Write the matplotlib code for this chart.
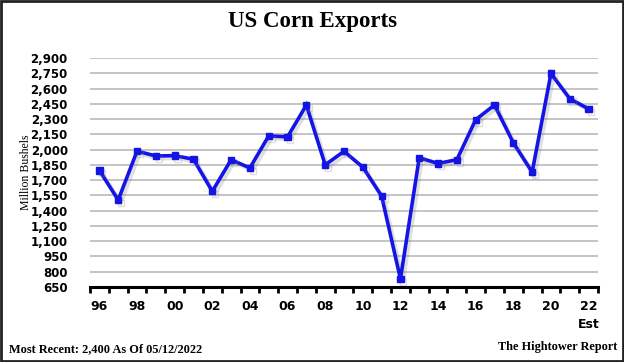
import numpy as np
import matplotlib
matplotlib.use("Agg")
import matplotlib.pyplot as plt
import matplotlib.patheffects as pe
from matplotlib.patches import Rectangle

# marketing years 1996 .. 2022 (22 = estimate)
years = np.arange(1996, 2023)
exports = [1795, 1505, 1985, 1937, 1941, 1905, 1590, 1900, 1820, 2135,
           2125, 2437, 1850, 1983, 1828, 1543, 730, 1920, 1864, 1901,
           2294, 2438, 2066, 1778, 2747, 2500, 2400]
yticks = list(range(650, 3000, 150))
xlabels = ["96", "98", "00", "02", "04", "06", "08", "10", "12",
           "14", "16", "18", "20", "22"]

fig = plt.figure(figsize=(6.24, 3.62), dpi=100)
ax = fig.add_axes([90 / 624, 1 - 287 / 362, 508 / 624, 229 / 362])

ax.plot(years, exports, color="#1414E6", lw=2.6, marker="s", ms=4.5,
        solid_joinstyle="miter",
        path_effects=[pe.SimpleLineShadow(offset=(2, -2), alpha=0.25, shadow_color="gray"),
                      pe.Normal()])

ax.set_xlim(1995.5, 2022.5)
ax.set_ylim(650, 2900)
ax.set_yticks(yticks)
ax.set_yticklabels([f"{v:,}" for v in yticks], fontsize=8.5, fontweight="bold")
ax.grid(axis="y", color="#b4b4b4", lw=1.1)
ax.set_axisbelow(True)
ax.tick_params(axis="y", length=0, pad=16)

# ticks at category boundaries, labels at every other year
ax.set_xticks(np.arange(1995.5, 2023, 1.0))
ax.set_xticks(years[::2], minor=True)
ax.set_xticklabels([])
ax.set_xticklabels(xlabels, minor=True, fontsize=9, fontweight="bold")
ax.tick_params(axis="x", which="major", direction="out", length=4, width=2, color="black")
ax.tick_params(axis="x", which="minor", length=0, pad=9)

for s in ["top", "left", "right"]:
    ax.spines[s].set_visible(False)
ax.spines["bottom"].set_linewidth(2.2)

ax.text(2022, -0.135, "Est", ha="center", va="top", fontsize=9, fontweight="bold",
        transform=ax.get_xaxis_transform(), clip_on=False)
ax.set_ylabel("Million Bushels", family="Liberation Serif", fontsize=8.5, labelpad=2)
ax.yaxis.set_label_coords(-0.115, 0.5)

fig.text(0.5, 1 - 22 / 362, "US Corn Exports", ha="center", va="center",
         family="Liberation Serif", fontweight="bold", fontsize=16.5)
fig.text(9 / 624, 1 - 349 / 362, "Most Recent: 2,400 As Of 05/12/2022", ha="left",
         va="center", family="Liberation Serif", fontweight="bold", fontsize=8.8)
fig.text(617 / 624, 1 - 347 / 362, "The Hightower Report", ha="right",
         va="center", family="Liberation Serif", fontweight="bold", fontsize=8.8)

fig.patches.append(Rectangle((0.002, 0.003), 0.996, 0.994, transform=fig.transFigure,
                             fill=False, edgecolor="#222222", lw=2))

fig.savefig("out.png", dpi=100)
